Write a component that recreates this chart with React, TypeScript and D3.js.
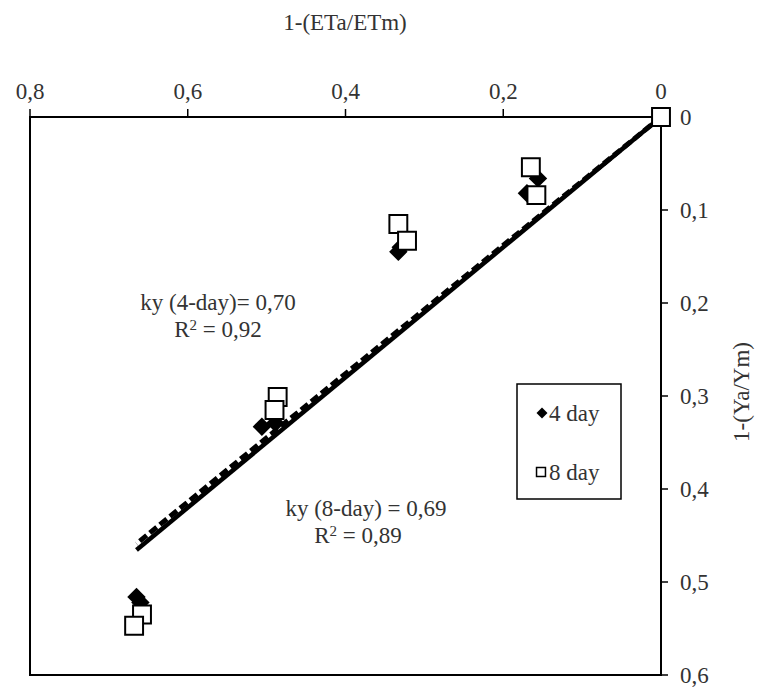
import React from "react";
import * as d3 from "d3";

const xTicks = [0, 0.2, 0.4, 0.6, 0.8];
const yTicks = [0, 0.1, 0.2, 0.3, 0.4, 0.5, 0.6];

// 4-day (diamonds): x = 1-(ETa/ETm), y = 1-(Ya/Ym)
const day4X = [0, 0.156, 0.170, 0.333, 0.330, 0.489, 0.506, 0.665, 0.660];
const day4Y = [0, 0.066, 0.082, 0.145, 0.140, 0.329, 0.333, 0.516, 0.522];
// 8-day (squares)
const day8X = [0, 0.165, 0.158, 0.333, 0.322, 0.486, 0.490, 0.658, 0.668];
const day8Y = [0, 0.054, 0.084, 0.115, 0.133, 0.301, 0.315, 0.535, 0.547];

const ky4 = 0.70;
const ky8 = 0.69;
const fitXMax = 0.665;

const W = 763;
const H = 688;
const left = 30, right = 661, top = 117, bottom = 675;
const FONT = "'Liberation Serif', 'Times New Roman', serif";
const TXT = "#333";
const FS = 23;

export default function App() {
  const x = d3.scaleLinear().domain([0.8, 0]).range([left, right]);
  const y = d3.scaleLinear().domain([0, 0.6]).range([top, bottom]);
  const fmt = (v: number) => (v === 0 ? "0" : d3.format(".1f")(v).replace(".", ","));

  const line = d3.line<[number, number]>().x((d) => x(d[0])).y((d) => y(d[1]));
  const fit4: [number, number][] = [[0, 0], [fitXMax, ky4 * fitXMax]];
  const fit8: [number, number][] = [[0, 0], [fitXMax, ky8 * fitXMax]];

  const sq = d3.symbol(d3.symbolSquare, 320)()!;
  const dia = d3.symbol(d3.symbolSquare, 170)()!;
  const sqLeg = d3.symbol(d3.symbolSquare, 80)()!;
  const diaLeg = d3.symbol(d3.symbolSquare, 60)()!;

  return (
    <div style={{ position: "absolute", left: 0, top: 0 }}>
      <svg width={W} height={H} style={{ display: "block", background: "#fff" }}>
        {/* frame */}
        <rect x={left} y={top} width={right - left} height={bottom - top} fill="none" stroke="#000" strokeWidth={2} />
        {/* top axis ticks */}
        {xTicks.map((t) => (
          <g key={"xt" + t}>
            <line x1={x(t)} x2={x(t)} y1={top} y2={top - 8} stroke="#000" strokeWidth={1.5} />
            <text x={x(t)} y={top - 18} textAnchor="middle" fontFamily={FONT} fontSize={FS} fill={TXT}>
              {fmt(t)}
            </text>
          </g>
        ))}
        {/* right axis ticks */}
        {yTicks.map((t) => (
          <g key={"yt" + t}>
            <line x1={right} x2={right + 7} y1={y(t)} y2={y(t)} stroke="#000" strokeWidth={1.5} />
            <text x={right + 19} y={y(t)} dy="0.35em" textAnchor="start" fontFamily={FONT} fontSize={FS} fill={TXT}>
              {fmt(t)}
            </text>
          </g>
        ))}
        {/* axis titles */}
        <text x={345} y={30} textAnchor="middle" fontFamily={FONT} fontSize={FS} fill={TXT}>
          1-(ETa/ETm)
        </text>
        <text
          transform={`translate(749,392) rotate(-90)`}
          textAnchor="middle"
          fontFamily={FONT}
          fontSize={FS}
          fill={TXT}
        >
          1-(Ya/Ym)
        </text>

        {/* fit lines */}
        <path d={line(fit8)!} fill="none" stroke="#000" strokeWidth={5} strokeDasharray="9,4" />
        <path d={line(fit4)!} fill="none" stroke="#000" strokeWidth={4.5} />

        {/* 4-day diamonds */}
        {day4X.map((v, i) => (
          <path key={"d4" + i} d={dia} transform={`translate(${x(v)},${y(day4Y[i])}) rotate(45)`} fill="#000" />
        ))}
        {/* 8-day squares */}
        {day8X.map((v, i) => (
          <path key={"d8" + i} d={sq} transform={`translate(${x(v)},${y(day8Y[i])})`} fill="#fff" stroke="#000" strokeWidth={2} />
        ))}

        {/* annotations */}
        <text x={218} y={310} textAnchor="middle" fontFamily={FONT} fontSize={FS} fill={TXT}>
          ky (4-day)= 0,70
        </text>
        <text x={218} y={337} textAnchor="middle" fontFamily={FONT} fontSize={FS} fill={TXT}>
          R<tspan dy="-7" fontSize={15}>2</tspan><tspan dy="7"> = 0,92</tspan>
        </text>
        <text x={366} y={516} textAnchor="middle" fontFamily={FONT} fontSize={FS} fill={TXT}>
          ky (8-day) = 0,69
        </text>
        <text x={358} y={543} textAnchor="middle" fontFamily={FONT} fontSize={FS} fill={TXT}>
          R<tspan dy="-7" fontSize={15}>2</tspan><tspan dy="7"> = 0,89</tspan>
        </text>

        {/* legend */}
        <rect x={517} y={384} width={104} height={115} fill="#fff" stroke="#000" strokeWidth={1.5} />
        <path d={diaLeg} transform={`translate(542,413) rotate(45)`} fill="#000" />
        <text x={549} y={413} dy="0.35em" fontFamily={FONT} fontSize={FS} fill={TXT}>
          4 day
        </text>
        <path d={sqLeg} transform={`translate(541,472)`} fill="#fff" stroke="#000" strokeWidth={1.5} />
        <text x={549} y={472} dy="0.35em" fontFamily={FONT} fontSize={FS} fill={TXT}>
          8 day
        </text>
      </svg>
    </div>
  );
}
